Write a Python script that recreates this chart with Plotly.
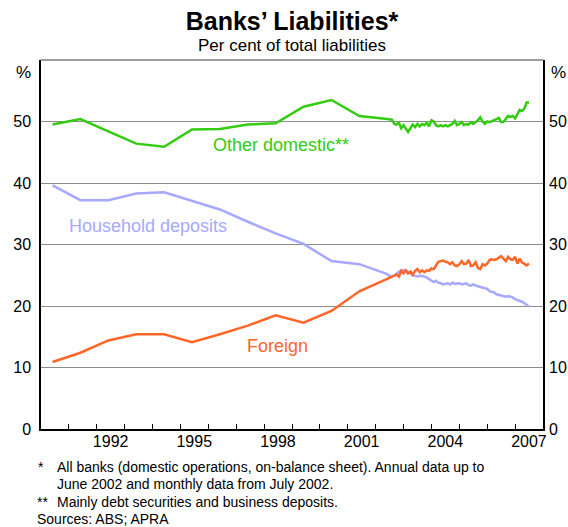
import plotly.graph_objects as go
import pandas as pd

# ---- Data ----
annual_dates = [f"{y}-06-01" for y in range(1990, 2003)]
household_annual = [39.6, 37.2, 37.2, 38.3, 38.5, 37.1, 35.7, 33.7, 31.8, 30.1, 27.3, 26.8, 25.2]
foreign_annual = [10.9, 12.4, 14.4, 15.4, 15.4, 14.1, 15.4, 16.8, 18.5, 17.3, 19.2, 22.4, 24.4]
other_annual = [49.5, 50.4, 48.4, 46.4, 45.9, 48.7, 48.8, 49.5, 49.7, 52.4, 53.5, 50.9, 50.4]

monthly_dates = [d.strftime("%Y-%m-%d") for d in pd.date_range("2002-07-01", "2007-07-01", freq="MS")]
other_monthly = [50.4, 50.3, 49.6, 49.5, 49.8, 48.9, 49.4, 48.8, 48.3, 48.9,
                 49.5, 49.1, 49.6, 49.2, 49.6, 49.4, 49.8, 49.2, 50.2, 50.0,
                 49.4, 49.2, 49.4, 49.2, 49.4, 49.2, 49.4, 49.6, 50.1, 49.4,
                 49.6, 49.9, 49.4, 49.6, 49.5, 49.9, 49.6, 49.9, 50.2, 50.7,
                 50.0, 49.6, 50.0, 49.9, 50.1, 50.2, 50.4, 50.6, 49.9, 49.9,
                 50.4, 50.9, 50.7, 50.9, 50.5, 51.2, 51.9, 51.7, 52.1, 53.1, 53.1]
foreign_monthly = [24.6, 24.8, 24.9, 25.1, 24.8, 25.7, 25.3, 25.8, 25.3, 25.6,
                   25.1, 25.7, 26.0, 25.5, 25.8, 25.5, 25.8, 25.7, 26.1, 26.0,
                   26.6, 27.2, 27.3, 27.4, 27.2, 27.1, 26.8, 27.1, 26.6, 26.5,
                   26.8, 27.3, 26.8, 26.9, 27.5, 26.5, 26.6, 27.1, 26.2, 26.0,
                   26.8, 26.6, 26.9, 27.5, 27.6, 27.5, 27.6, 27.8, 28.1, 27.7,
                   27.3, 28.0, 27.6, 27.5, 28.0, 26.9, 27.7, 27.1, 26.9, 26.6, 26.9]
household_monthly = [24.9, 24.8, 25.0, 25.3, 25.6, 25.8, 25.8, 25.7, 25.6, 25.3,
                     25.0, 24.9, 24.8, 24.9, 24.9, 24.8, 24.6, 24.4, 24.1, 23.9,
                     24.1, 23.8, 23.7, 23.5, 23.6, 23.7, 23.5, 23.8, 23.6, 23.6,
                     23.7, 23.5, 23.6, 23.7, 23.4, 23.3, 23.5, 23.3, 23.2, 23.1,
                     23.0, 22.9, 22.8, 22.4, 22.3, 22.2, 21.9, 21.8, 21.7, 21.7,
                     21.5, 21.6, 21.5, 21.4, 21.1, 21.0, 20.9, 20.7, 20.5, 20.2, 19.9]

dates = annual_dates + monthly_dates
other = other_annual + other_monthly
foreign = foreign_annual + foreign_monthly
household = household_annual + household_monthly

y_ticks = [0, 10, 20, 30, 40, 50]
x_label_years = [1992, 1995, 1998, 2001, 2004, 2007]

GREEN = "#33cc11"
ORANGE = "#ff6628"
BLUE = "#a6a9ff"
FONT = "Liberation Sans, Arial, sans-serif"

x_range = ["1990-01-01", "2008-01-01"]

fig = go.Figure()
fig.add_trace(go.Scatter(x=dates, y=household, mode="lines",
                         line=dict(color=BLUE, width=2.5), name="Household deposits"))
fig.add_trace(go.Scatter(x=dates, y=foreign, mode="lines",
                         line=dict(color=ORANGE, width=2.5), name="Foreign"))
fig.add_trace(go.Scatter(x=dates, y=other, mode="lines",
                         line=dict(color=GREEN, width=2.5), name="Other domestic"))
# invisible helper trace so the overlay axes (labels) are drawn
fig.add_trace(go.Scatter(x=[x_range[0]], y=[0], xaxis="x2", yaxis="y2",
                         mode="markers", marker=dict(opacity=0), hoverinfo="skip",
                         showlegend=False))

fig.update_layout(
    template="none",
    width=568, height=527,
    margin=dict(l=41, r=25, t=60, b=98, autoexpand=False),
    paper_bgcolor="white", plot_bgcolor="white",
    showlegend=False,
    font=dict(family=FONT, size=16, color="black"),
    xaxis=dict(type="date", range=x_range, tick0="1990-01-01", dtick="M12",
               ticks="inside", ticklen=5, tickcolor="black", tickwidth=1,
               showticklabels=False, showgrid=False, zeroline=False, automargin=False,
               showline=True, linecolor="black", linewidth=1.5),
    xaxis2=dict(type="date", range=x_range, overlaying="x", side="bottom",
                tickvals=[f"{y}-07-01" for y in x_label_years],
                ticktext=[str(y) for y in x_label_years], automargin=False,
                ticks="", showgrid=False, zeroline=False, showline=False,
                tickfont=dict(size=16), ticklabelstandoff=1),
    yaxis=dict(range=[0, 60], tickvals=y_ticks, ticks="", showgrid=True,
               gridcolor="#8c8c8c", gridwidth=1, zeroline=False, automargin=False,
               showline=True, linecolor="black", linewidth=1.5, mirror=True,
               tickfont=dict(size=16), ticklabelstandoff=5),
    yaxis2=dict(range=[0, 60], tickvals=y_ticks, overlaying="y", side="right",
                ticks="", showgrid=False, zeroline=False, showline=False, automargin=False,
                tickfont=dict(size=16), ticklabelstandoff=5),
    title=dict(text="<b>Banks’ Liabilities*</b>", x=(41 + 251) / 568, xanchor="center",
               y=1 - 21 / 527, yanchor="middle",
               font=dict(family=FONT, size=25, color="black")),
)

# top border (grey)
fig.add_shape(type="line", xref="paper", yref="paper", x0=0, x1=1, y0=1, y1=1,
              line=dict(color="#7f7f7f", width=1.5))

ann = []
ann.append(dict(text="Per cent of total liabilities", xref="paper", yref="paper",
                x=0.5, y=1.038, xanchor="center", yanchor="middle", showarrow=False,
                font=dict(size=17)))
ann.append(dict(text="%", xref="paper", yref="paper", x=-0.035, y=0.967,
                xanchor="center", yanchor="middle", showarrow=False, font=dict(size=17)))
ann.append(dict(text="%", xref="paper", yref="paper", x=1.03, y=0.967,
                xanchor="center", yanchor="middle", showarrow=False, font=dict(size=17)))
# series labels
ann.append(dict(text="Other domestic**", x="1998-08-07", y=46.1, xanchor="center",
                yanchor="middle", showarrow=False, font=dict(size=18, color=GREEN)))
ann.append(dict(text="Household deposits", x="1990-12-01", y=33.0, xanchor="left",
                yanchor="middle", showarrow=False, font=dict(size=18, color=BLUE)))
ann.append(dict(text="Foreign", x="1998-06-25", y=13.5, xanchor="center",
                yanchor="middle", showarrow=False, font=dict(size=18, color=ORANGE)))
# footnotes
foot = [
    ("*", -0.010, 0.028, -0.103, "All banks (domestic operations, on-balance sheet). Annual data up to"),
    (None, None, 0.028, -0.149, "June 2002 and monthly data from July 2002."),
    ("**", -0.012, 0.028, -0.198, "Mainly debt securities and business deposits."),
    (None, None, -0.012, -0.244, "Sources: ABS; APRA"),
]
for mark, xm, xt, yy, txt in foot:
    if mark:
        ann.append(dict(text=mark, xref="paper", yref="paper", x=xm, y=yy,
                        xanchor="left", yanchor="middle", showarrow=False,
                        font=dict(size=14)))
    ann.append(dict(text=txt, xref="paper", yref="paper", x=xt, y=yy,
                    xanchor="left", yanchor="middle", showarrow=False,
                    font=dict(size=14)))
fig.update_layout(annotations=ann)

# remove the default 8px page margin so the figure fills the window exactly
fig.write_html("out.html", config={"displayModeBar": False},
               post_script="document.body.style.margin='0';")
